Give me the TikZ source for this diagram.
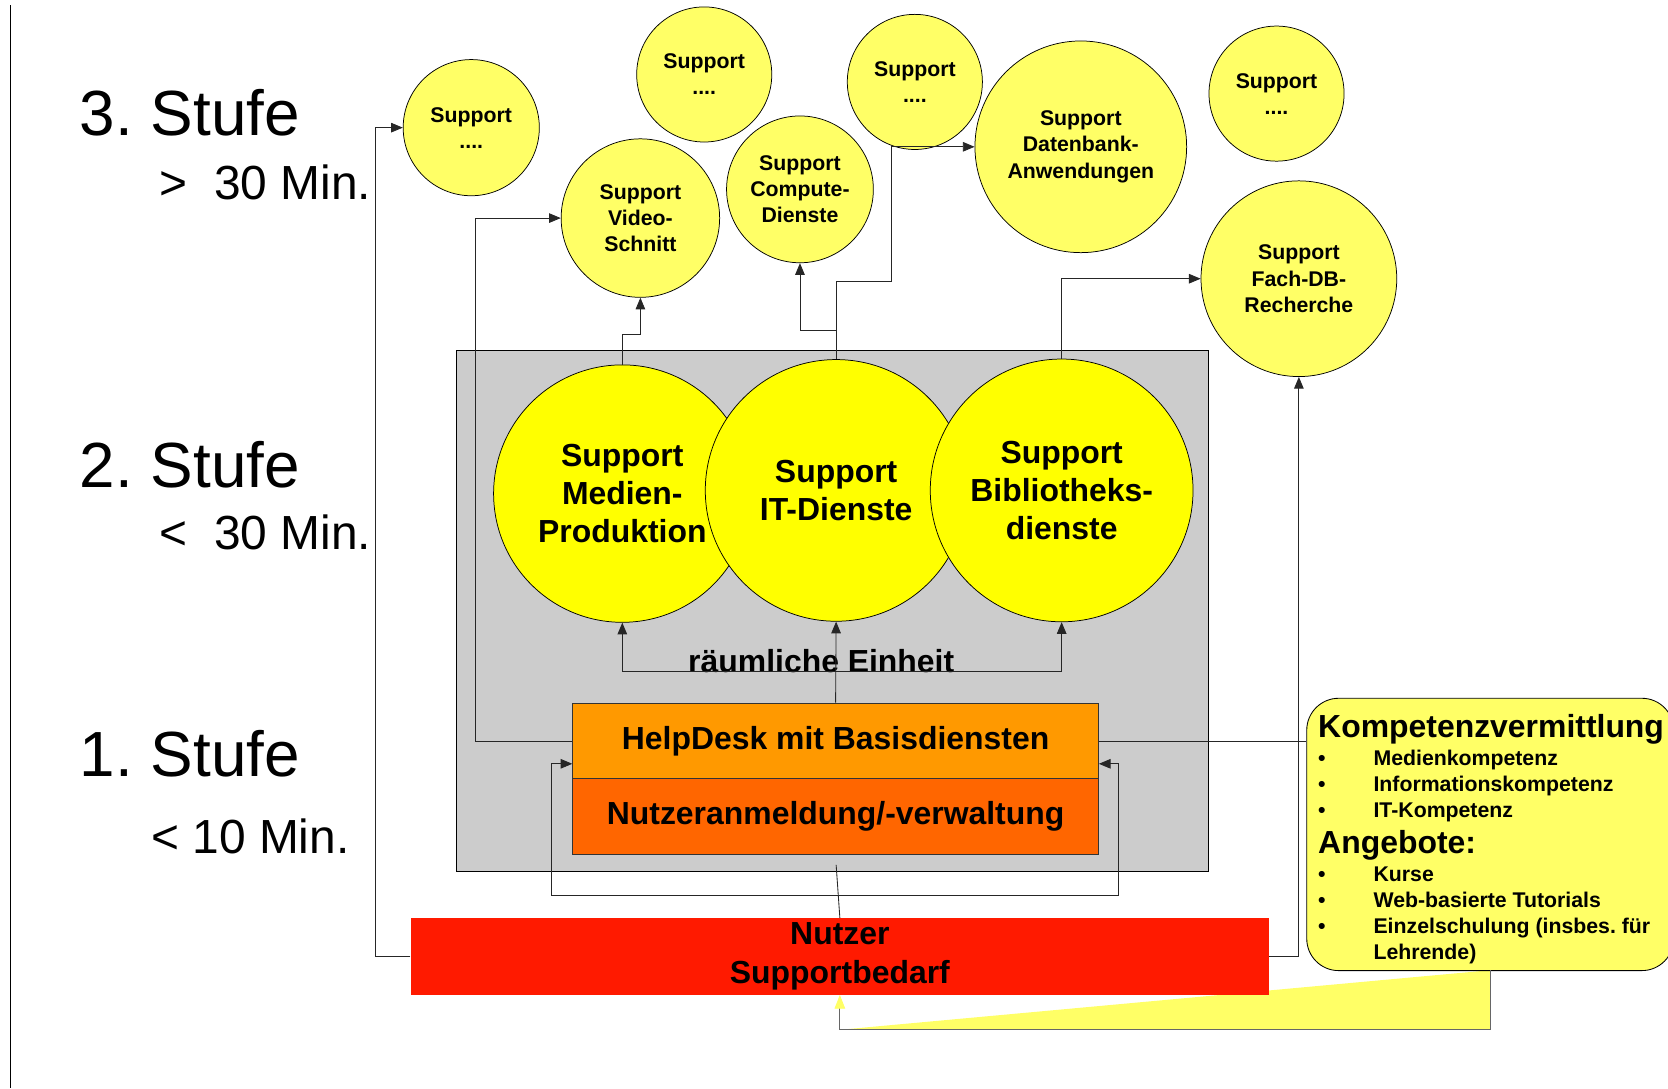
\documentclass[tikz,border=0pt]{standalone}
\usepackage{fontspec}
\setmainfont{Liberation Sans}
\usetikzlibrary{arrows.meta}

\definecolor{paleyellow}{HTML}{FFFF66}
\definecolor{brightyellow}{HTML}{FFFF00}
\definecolor{helporange}{HTML}{FF9900}
\definecolor{loginorange}{HTML}{FF6600}
\definecolor{userred}{HTML}{FF1A00}
\definecolor{unitgray}{HTML}{CCCCCC}

\frenchspacing

\begin{document}
\begin{tikzpicture}[x=1pt, y=-1pt,
  outer/.style={circle, draw, line width=0.7pt, fill=paleyellow, inner sep=0pt, align=center, font=\fontsize{20}{24.5}\selectfont\bfseries},
  inner/.style={circle, draw, line width=0.7pt, fill=brightyellow, inner sep=0pt, align=center, font=\fontsize{30}{35.5}\selectfont\bfseries},
  bar/.style={draw=black!80, line width=0.8pt, minimum width=495pt, minimum height=71pt, inner sep=0pt, font=\fontsize{30}{36}\selectfont\bfseries},
  link/.style={draw=black!85, line width=0.8pt},
  arr/.style={link, -{Triangle[length=11pt,width=9pt]}},
  level/.style={anchor=base west, inner sep=0pt, font=\fontsize{60}{72}\selectfont},
  limit/.style={anchor=base west, inner sep=0pt, font=\fontsize{45}{54}\selectfont}]

\clip (0,0) rectangle (1568,1023);
\useasboundingbox (0,0) rectangle (1568,1023);

\draw[line width=1.4pt] (10,5) -- (10,1023);

\node (stufe3)[level] at (75,127) {3. Stufe};
\node (min3)[limit] at (150,188) {>~~30 Min.};
\node (stufe2)[level] at (75,458) {2. Stufe};
\node (min2)[limit] at (150,517) {<~~30 Min.};
\node (stufe1)[level] at (75,730) {1. Stufe};
\node (min1)[limit] at (142,802) {< 10 Min.};

% callout tail
\fill[paleyellow] (790,968) -- (1401,968) -- (1401,912) -- cycle;

\node (unit)[draw, fill=unitgray, line width=0.8pt, minimum width=707pt, minimum height=490pt] at (782.5,574) {};

\node (medien)[inner, minimum size=242pt] at (585,464) {Support\\Medien-\\Produktion};
\node (it)[inner, minimum size=246pt] at (786,461) {Support\\IT-Dienste};
\node (biblio)[inner, minimum size=247pt] at (998,461) {Support\\Bibliotheks-\\dienste};

\node (raum)[anchor=base, inner sep=0pt, font=\fontsize{30}{36}\selectfont\bfseries] at (772,632) {räumliche Einheit};

\node (helpdesk)[bar, fill=helporange] at (785.5,696.5) {HelpDesk mit Basisdiensten};
\node (anmeldung)[bar, fill=loginorange] at (785.5,767.5) {Nutzeranmeldung/-verwaltung};

\node (nutzer)[fill=userred, minimum width=807pt, minimum height=72pt, inner sep=0pt, align=center, font=\fontsize{30}{36}\selectfont\bfseries] at (789.5,899) {Nutzer\\Supportbedarf};

\node (sa)[outer, minimum size=128pt] at (443,120) {Support\\....};
\node (sb)[outer, minimum size=127pt] at (662,70) {Support\\....};
\node (sc)[outer, minimum size=127pt] at (860,77) {Support\\....};
\node (video)[outer, minimum size=149pt] at (602,205) {Support\\Video-\\Schnitt};
\node (compute)[outer, minimum size=138pt] at (752,178) {Support\\Compute-\\Dienste};
\node (datenbank)[outer, minimum size=199pt] at (1016,138) {Support\\Datenbank-\\Anwendungen};
\node (sd)[outer, minimum size=127pt] at (1200,88) {Support\\....};
\node (fachdb)[outer, minimum size=184pt] at (1221,262) {Support\\Fach-DB-\\Recherche};

\node (kompetenz)[anchor=north west, draw, fill=paleyellow, line width=0.8pt, rounded corners=30pt, minimum width=345pt, minimum height=256pt] at (1228,656) {};
\node (komptext)[anchor=north west, inner sep=0pt, align=left, font=\fontsize{20}{24.5}\selectfont\bfseries] at (1239,671)
  {{\fontsize{30}{30}\selectfont Kompetenzvermittlung}\\[2pt]
   \makebox[52pt][l]{\textbullet}Medienkompetenz\\
   \makebox[52pt][l]{\textbullet}Informationskompetenz\\
   \makebox[52pt][l]{\textbullet}IT-Kompetenz\\[7pt]
   {\fontsize{30}{30}\selectfont Angebote:}\\[2pt]
   \makebox[52pt][l]{\textbullet}Kurse\\
   \makebox[52pt][l]{\textbullet}Web-basierte Tutorials\\
   \makebox[52pt][l]{\textbullet}Einzelschulung (insbes. für\\
   \hspace*{52pt}Lehrende)};

\coordinate (split) at (786,631);
\coordinate (fork) at (786,842);
\coordinate (hdleft) at (538,718);
\coordinate (hdright) at (1033,718);
\coordinate (tail) at (1401,912);

\draw[arr] (nutzer.west) -- ++(-33,0) |- (sa.west);
\draw[arr] (helpdesk.west) -- ++(-91,0) |- (video.west);
\draw[arr] (medien.north) -- ++(0,-28) -| (video.south);
\draw[arr] (it.north) -- ++(0,-27) -| (compute.south);
\draw[arr] (it.north) |- (838,265) |- (datenbank.west);
\draw[arr] (biblio.north) |- (fachdb.west);
\draw[arr] (nutzer.east) -| (fachdb.south);
\draw[link] (helpdesk.east) -- (helpdesk.east -| kompetenz.west);

\draw[arr] (helpdesk.north) -- (it.south);
\draw[arr] (split) -| (medien.south);
\draw[arr] (split) -| (biblio.south);

\draw[link] (nutzer.north) -- (786,813);
\draw[arr] (fork) -| ([xshift=-20pt]hdleft) -- (hdleft);
\draw[arr] (fork) -| ([xshift=18pt]hdright) -- (hdright);

\draw[link, draw=black!60, -{Triangle[length=13pt,width=10pt,color=paleyellow]}] (tail) -- (1401,968) -| (nutzer.south);

\end{tikzpicture}
\end{document}
